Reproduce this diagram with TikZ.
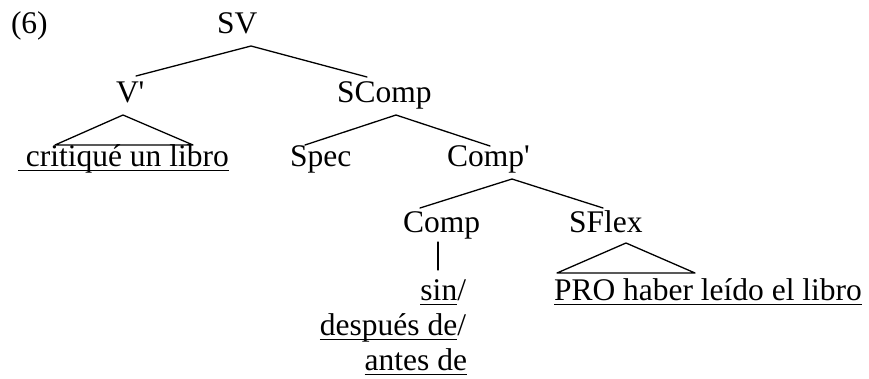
\documentclass[tikz,border=0pt]{standalone}
\usepackage{fontspec}
\setmainfont{Liberation Serif}[Ligatures=TeXOff]
\newsavebox\ulboxx
\newcommand\ulx[1]{\sbox\ulboxx{#1}\rlap{\rule[-5pt]{\wd\ulboxx}{1.4pt}}\usebox\ulboxx}
\begin{document}
\begin{tikzpicture}[x=1pt,y=-1pt,
  lbl/.style={inner sep=0pt,outer sep=0pt,font=\fontsize{31.5pt}{35pt}\selectfont},
  edge/.style={line width=1.3pt,line cap=round,line join=round}]
\useasboundingbox (0,0) rectangle (869,378);
% labels
\node[lbl,anchor=base west] (six) at (11,33) {(6)};
\node[lbl,anchor=base west] (sv) at (217,33) {SV};
\node[lbl,anchor=base west] (vbar) at (116,102) {V'};
\node[lbl,anchor=base west] (scomp) at (337,102) {SComp};
\node[lbl,anchor=base west] (crit) at (18,166) {\ulx{\ critiqué un libro}};
\node[lbl,anchor=base west] (spec) at (290,166) {Spec};
\node[lbl,anchor=base west] (compbar) at (447,166) {Comp'};
\node[lbl,anchor=base west] (comp) at (403,232) {Comp};
\node[lbl,anchor=base west] (sflex) at (569,232) {SFlex};
\node[lbl,anchor=base west] (pro) at (554,300) {\ulx{PRO haber leído el libro}};
\node[lbl,anchor=base east] (sin) at (466,300) {\ulx{sin}/};
\node[lbl,anchor=base east] (desp) at (466,335) {\ulx{después de}/};
\node[lbl,anchor=base east] (antes) at (467,370) {\ulx{antes de}};
% connector end points
\coordinate (sv-d) at (251,46);
\coordinate (vbar-u) at (136,76);
\coordinate (scomp-u) at (367,77);
\coordinate (vbar-d) at (123,115);
\coordinate (crit-l) at (55,145);
\coordinate (crit-r) at (193,145);
\coordinate (scomp-d) at (396,115);
\coordinate (spec-u) at (305,145);
\coordinate (compbar-u) at (490,146);
\coordinate (compbar-d) at (512,179);
\coordinate (comp-u) at (420,208);
\coordinate (sflex-u) at (603,208);
\coordinate (comp-d) at (438,242);
\coordinate (sin-u) at (438,270);
\coordinate (sflex-d) at (626,243);
\coordinate (pro-l) at (557,273);
\coordinate (pro-r) at (695,273);
% connectors
\draw[edge] (vbar-u) -- (sv-d) -- (scomp-u);
\draw[edge] (crit-l) -- (vbar-d) -- (crit-r) -- cycle;
\draw[edge] (spec-u) -- (scomp-d) -- (compbar-u);
\draw[edge] (comp-u) -- (compbar-d) -- (sflex-u);
\draw[edge] (comp-d) -- (sin-u);
\draw[edge] (pro-l) -- (sflex-d) -- (pro-r) -- cycle;
\end{tikzpicture}
\end{document}
